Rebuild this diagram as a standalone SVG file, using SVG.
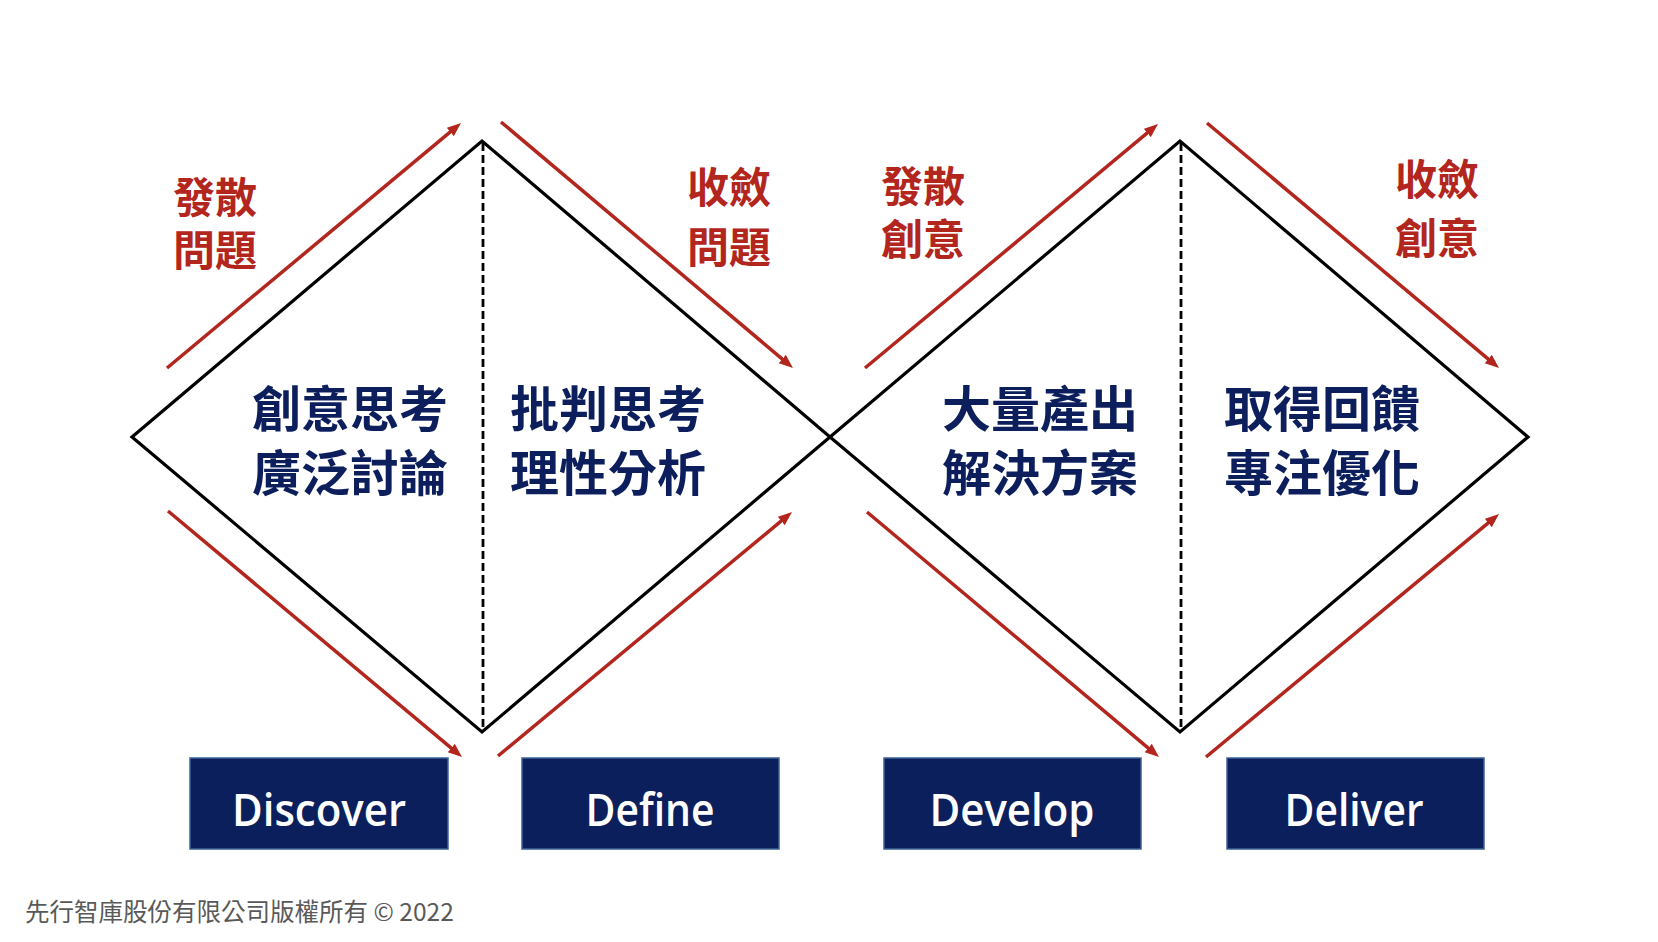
<svg xmlns="http://www.w3.org/2000/svg" width="1658" height="942" viewBox="0 0 1658 942">
<style>
.diamond{fill:none;stroke:#000;stroke-width:3.2;stroke-linejoin:miter}
.dash{stroke:#000;stroke-width:2.8;stroke-dasharray:8 4}
.arr{stroke:#b3261e;stroke-width:3.5;fill:none}
.red{font-family:"Noto Sans CJK TC","Noto Sans CJK SC",sans-serif;font-weight:700;font-size:42px;fill:#b3261e}
.blue{font-family:"Noto Sans CJK TC","Noto Sans CJK SC",sans-serif;font-weight:700;font-size:49px;fill:#0c1f5c}
.box{fill:#0b1f5c;stroke:#3e6296;stroke-width:1.5}
.boxt{font-family:"Open Sans","Noto Sans",sans-serif;font-weight:600;font-size:45px;fill:#fff;text-anchor:middle}
.copy{font-family:"Noto Sans CJK TC","Noto Sans CJK SC",sans-serif;font-size:24.5px;fill:#595959}
</style>
<defs>
<marker id="ah" markerUnits="userSpaceOnUse" markerWidth="16" markerHeight="12" viewBox="0 -6 16 12" refX="2" refY="0" orient="auto">
<path d="M0,-5.5 L14,0 L0,5.5 z" fill="#b3261e"/>
</marker>
</defs>
<rect width="1658" height="942" fill="#fff"/>
<g id="diamonds">
<polygon class="diamond" points="132,437 482,141 830,437 482,732"/>
<polygon class="diamond" points="830,437 1180,141 1528,437 1180,732"/>
<line class="dash" x1="483" y1="143" x2="483" y2="730"/>
<line class="dash" x1="1181" y1="143" x2="1181" y2="730"/>
</g>
<g id="connectors">
<line class="arr" x1="167" y1="368" x2="451.8" y2="130.7" marker-end="url(#ah)"/>
<line class="arr" x1="501" y1="122" x2="783.8" y2="360.3" marker-end="url(#ah)"/>
<line class="arr" x1="168" y1="511" x2="452.8" y2="749.3" marker-end="url(#ah)"/>
<line class="arr" x1="498" y1="756" x2="782.8" y2="519.7" marker-end="url(#ah)"/>
<line class="arr" x1="865" y1="368" x2="1148.8" y2="131.7" marker-end="url(#ah)"/>
<line class="arr" x1="1207" y1="123" x2="1489.8" y2="360.3" marker-end="url(#ah)"/>
<line class="arr" x1="867" y1="512" x2="1149.8" y2="749.3" marker-end="url(#ah)"/>
<line class="arr" x1="1206" y1="757" x2="1489.8" y2="521.7" marker-end="url(#ah)"/>
</g>
<g id="label-diverge-problem">
<text class="red"><tspan x="173" y="213">發散</tspan><tspan x="173" y="266">問題</tspan></text>
</g>
<g id="label-converge-problem">
<text class="red"><tspan x="687" y="203">收斂</tspan><tspan x="687" y="263">問題</tspan></text>
</g>
<g id="label-diverge-idea">
<text class="red"><tspan x="881" y="202">發散</tspan><tspan x="881" y="255">創意</tspan></text>
</g>
<g id="label-converge-idea">
<text class="red"><tspan x="1395" y="195">收斂</tspan><tspan x="1395" y="254">創意</tspan></text>
</g>
<g id="text-discover">
<text class="blue"><tspan x="252" y="427">創意思考</tspan><tspan x="252" y="491">廣泛討論</tspan></text>
</g>
<g id="text-define">
<text class="blue"><tspan x="510" y="427">批判思考</tspan><tspan x="510" y="491">理性分析</tspan></text>
</g>
<g id="text-develop">
<text class="blue"><tspan x="942" y="427">大量產出</tspan><tspan x="942" y="491">解決方案</tspan></text>
</g>
<g id="text-deliver">
<text class="blue"><tspan x="1224" y="427">取得回饋</tspan><tspan x="1224" y="491">專注優化</tspan></text>
</g>
<g id="box-discover">
<rect class="box" x="190" y="758" width="258" height="91"/>
<text class="boxt" x="319" y="826" textLength="174" lengthAdjust="spacingAndGlyphs">Discover</text>
</g>
<g id="box-define">
<rect class="box" x="522" y="758" width="257" height="91"/>
<text class="boxt" x="650" y="826" textLength="129" lengthAdjust="spacingAndGlyphs">Define</text>
</g>
<g id="box-develop">
<rect class="box" x="884" y="758" width="257" height="91"/>
<text class="boxt" x="1012" y="826" textLength="165" lengthAdjust="spacingAndGlyphs">Develop</text>
</g>
<g id="box-deliver">
<rect class="box" x="1227" y="758" width="257" height="91"/>
<text class="boxt" x="1354" y="826" textLength="139" lengthAdjust="spacingAndGlyphs">Deliver</text>
</g>
<text class="copy" x="25" y="921">先行智庫股份有限公司版權所有 © 2022</text>
</svg>
